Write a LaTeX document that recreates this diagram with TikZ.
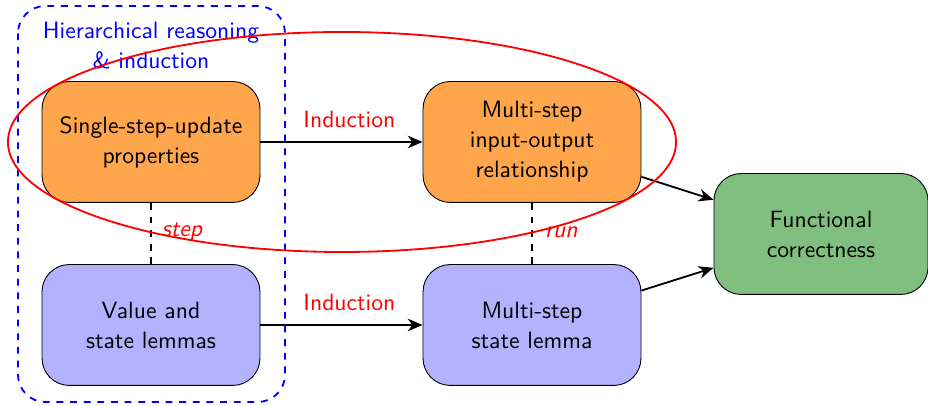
\documentclass[tikz,border=0pt]{standalone}
\usetikzlibrary{arrows.meta}
\begin{document}
\begin{tikzpicture}[x=0.44pt,y=-0.44pt,
  every node/.style={font=\sffamily\fontsize{10.4}{13.2}\selectfont},
  box/.style={draw=black, rounded corners=12pt, minimum width=95.9pt, minimum height=53.2pt, align=center, inner sep=2pt},
  obox/.style={box, fill=orange!70},
  bbox/.style={box, fill=blue!30},
  gbox/.style={box, fill=green!50!black!50, minimum width=94.2pt},
  conn/.style={-{Stealth[length=6.5pt,width=5.5pt,inset=2pt]}, thick},
  vdash/.style={thick, dashed},
  lbl/.style={text=red},
  ilbl/.style={text=red, font=\sffamily\itshape\fontsize{10.4}{13.2}\selectfont},
]
\useasboundingbox (0,0) rectangle (928,406);
% hierarchical group
\draw[blue, thick, dashed, rounded corners=12pt] (18,6) rectangle (285,402);
\node[text=blue, align=center] (title) at (151,46) {Hierarchical reasoning\\\& induction};
% boxes
\node[obox] (ss) at (151,142) {Single-step-update\\properties};
\node[obox] (ms) at (532,142) {Multi-step\\input-output\\relationship};
\node[bbox] (vs) at (151,325) {Value and\\state lemmas};
\node[bbox] (msl) at (532,325) {Multi-step\\state lemma};
\node[gbox] (fc) at (821,234) {Functional\\correctness};
% connectors
\draw[conn] (ss) -- node[lbl, above=2.5pt, xshift=3.5pt] {Induction} (ms);
\draw[conn] (vs) -- node[lbl, above=2.5pt, xshift=3.5pt] {Induction} (msl);
\draw[vdash] (ss) -- node[ilbl, right=1pt, pos=0.48] {step} (vs);
\draw[vdash] (ms) -- node[ilbl, right=2pt, pos=0.48] {run} (msl);
\draw[conn] (ms) -- (fc);
\draw[conn] (msl) -- (fc);
% red ellipse
\draw[red, thick] (342,142) ellipse [x radius=147pt, y radius=48.4pt];
\end{tikzpicture}
\end{document}
